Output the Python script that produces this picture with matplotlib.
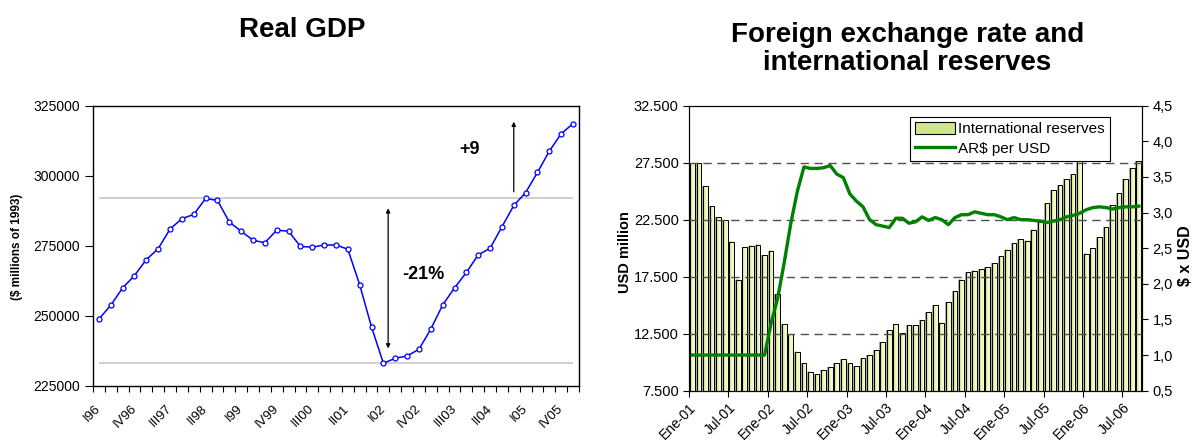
import numpy as np
import matplotlib
matplotlib.use('Agg')
import matplotlib.pyplot as plt
from matplotlib.patches import Patch
from matplotlib.lines import Line2D
from matplotlib.colors import LinearSegmentedColormap

plt.rcParams['font.family'] = ['Liberation Sans', 'DejaVu Sans']

# Real GDP, quarterly I96 .. I06 ($ millions of 1993)
gdp = [248900, 253800, 260000, 264400, 270100, 274000, 281000, 284700, 286200, 291900,
       291200, 283500, 280200, 277000, 276100, 280600, 280200, 274800, 274500, 275300,
       275300, 273800, 261100, 246000, 233100, 234900, 235700, 238100, 245300, 253900,
       260000, 265500, 271800, 274100, 281800, 289400, 294000, 301200, 308800, 315000,
       318600]
q_labels = ['I96', 'IV96', 'III97', 'II98', 'I99', 'IV99', 'III00', 'II01', 'I02',
            'IV02', 'III03', 'II04', 'I05', 'IV05']

# International reserves (USD million), monthly Jan-01 .. Sep-06
reserves = [27440, 27500, 25450, 23690, 22750, 22460, 20580, 17240, 20110, 20230,
            20320, 19410, 19790, 15950, 13370, 12460, 10930, 9900, 9170, 8940,
            9320, 9550, 9900, 10260, 9900, 9670, 10340, 10610, 11050, 11750,
            12780, 13370, 12540, 13250, 13280, 13720, 14420, 15010, 13480, 15270,
            16270, 17240, 17880, 18030, 18170, 18350, 18700, 19290, 19880, 20460,
            20810, 20670, 21630, 22280, 23980, 25090, 25540, 26030, 26470, 28000,
            19520, 20020, 20960, 21870, 23750, 24860, 26030, 27060, 27650]

# AR$ per USD, monthly
fx = [1.0, 1.0, 1.0, 1.0, 1.0, 1.0, 1.0, 1.0, 1.0, 1.0,
      1.0, 1.0, 1.45, 1.80, 2.30, 2.85, 3.30, 3.64, 3.62, 3.62,
      3.63, 3.66, 3.54, 3.49, 3.26, 3.16, 3.08, 2.90, 2.83, 2.81,
      2.79, 2.92, 2.92, 2.85, 2.87, 2.94, 2.89, 2.93, 2.90, 2.83,
      2.93, 2.97, 2.97, 3.01, 2.99, 2.97, 2.97, 2.94, 2.90, 2.93,
      2.90, 2.90, 2.89, 2.88, 2.86, 2.88, 2.90, 2.94, 2.96, 2.99,
      3.04, 3.07, 3.08, 3.07, 3.05, 3.07, 3.08, 3.08, 3.09]
m_labels = ['Ene-01', 'Jul-01', 'Ene-02', 'Jul-02', 'Ene-03', 'Jul-03',
            'Ene-04', 'Jul-04', 'Ene-05', 'Jul-05', 'Ene-06', 'Jul-06']

fig = plt.figure(figsize=(11.94, 4.43), dpi=100)

# ---------------- Left: Real GDP ----------------
ax1 = fig.add_axes([0.0779, 0.1287, 0.407, 0.6327])
xq = np.arange(len(gdp))

# Peak and trough reference lines
peak = max(gdp[:20])
trough = min(gdp)
ax1.hlines([peak, trough], 0, len(gdp) - 1, color='#c8c8c8', lw=1.2, zorder=1)

ax1.plot(xq, gdp, color='#0000ff', lw=1.1, marker='o', ms=3.6,
         mfc='white', mec='#0000ff', mew=0.9, zorder=3)

ax1.set_xlim(-0.5, len(gdp) - 0.5)
ax1.set_ylim(225000, 325000)
ax1.set_yticks(np.arange(225000, 325001, 25000))
ax1.set_xticks(np.arange(-0.5, len(gdp), 1))
ax1.set_xticklabels([])
ax1.set_xticks(np.arange(0, len(gdp), 3)[:len(q_labels)], labels=q_labels, minor=True)
ax1.tick_params(axis='x', which='major', direction='out', length=4, width=0.8)
ax1.tick_params(axis='x', which='minor', length=0, pad=15, labelsize=9.5)
for lab in ax1.get_xticklabels(minor=True):
    lab.set_rotation(45)
    lab.set_ha('right')
    lab.set_va('center')
    lab.set_rotation_mode('anchor')
ax1.tick_params(axis='y', direction='out', length=6, width=0.8, labelsize=10)
for s in ax1.spines.values():
    s.set_linewidth(1.0)

# Annotations
ax1.annotate('', xy=(24.4, 238400), xytext=(24.4, 288400),
             arrowprops=dict(arrowstyle='<|-|>', lw=0.9, color='black',
                             mutation_scale=6, shrinkA=0, shrinkB=0))
ax1.text(27.4, 264600, '-21%', fontsize=13, fontweight='bold', ha='center', va='center')
ax1.annotate('', xy=(35.0, 319300), xytext=(35.0, 294300),
             arrowprops=dict(arrowstyle='-|>', lw=0.9, color='black',
                             mutation_scale=6, shrinkA=0, shrinkB=0))
ax1.text(31.3, 309400, '+9', fontsize=13, fontweight='bold', ha='center', va='center')

fig.text(0.0142, 0.443, '($ millions of 1993)', rotation=90, fontsize=8.5,
         fontweight='bold', ha='center', va='center')
fig.text(0.2533, 0.932, 'Real GDP', fontsize=20, fontweight='bold',
         ha='center', va='center')

# ---------------- Right: FX and reserves ----------------
ax2 = fig.add_axes([0.5771, 0.1181, 0.3794, 0.6433])
xm = np.arange(len(reserves))

# gray shading between bars
ax2.bar(xm, reserves, width=1.0, color='#a9a9a9', lw=0, zorder=1)
bars = ax2.bar(xm, reserves, width=0.72, facecolor='none', edgecolor='black',
               lw=0.7, zorder=3)
cmap = LinearSegmentedColormap.from_list('resv', ['#a9cc45', '#dcee9c', '#f6fadb', '#eef6c6'])
grad = np.linspace(0, 1, 32).reshape(1, -1)
for rect in bars:
    x0 = rect.get_x()
    w = rect.get_width()
    h = rect.get_height()
    ax2.imshow(grad, extent=[x0, x0 + w, 0, h], aspect='auto', cmap=cmap,
               interpolation='bilinear', zorder=2)

ax2.set_xlim(-0.5, len(reserves) - 0.5)
ax2.set_ylim(7500, 32500)
yt = np.arange(7500, 32501, 5000)
ax2.set_yticks(yt, labels=[f'{v:,}'.replace(',', '.') for v in yt])
ax2.hlines(yt[1:-1], -0.5, len(reserves) - 0.5, color='#505050', lw=1.0,
           linestyles=(0, (6, 4)), zorder=4)
ax2.set_xticks(np.arange(-0.5, len(reserves), 6)[:len(m_labels)], labels=m_labels)
ax2.tick_params(axis='x', direction='out', length=4, width=0.8, labelsize=10, pad=3)
for lab in ax2.get_xticklabels():
    lab.set_rotation(45)
    lab.set_ha('right')
    lab.set_rotation_mode('anchor')
ax2.tick_params(axis='y', direction='out', length=4, width=0.8, labelsize=10.5)

ax3 = ax2.twinx()
ax3.plot(xm, fx, color='#008000', lw=2.4, zorder=5)
ax3.set_ylim(0.5, 4.5)
rt = np.arange(0.5, 4.51, 0.5)
ax3.set_yticks(rt, labels=[f'{v:.1f}'.replace('.', ',') for v in rt])
ax3.tick_params(axis='y', direction='out', length=4, width=0.8, labelsize=10.5)

handles = [Patch(facecolor='#cfe68a', edgecolor='black', lw=0.8),
           Line2D([], [], color='#008000', lw=2.4)]
leg = ax3.legend(handles, ['International reserves', 'AR$ per USD'],
                 loc='upper right', bbox_to_anchor=(0.929, 0.961), fontsize=11,
                 frameon=True, fancybox=False, framealpha=1, edgecolor='black',
                 handlelength=2.6, handleheight=0.8, borderpad=0.35,
                 labelspacing=0.35, handletextpad=0.2, borderaxespad=0)
leg.get_frame().set_linewidth(0.8)

fig.text(0.5235, 0.432, 'USD million', rotation=90, fontsize=10.5,
         fontweight='bold', ha='center', va='center')
fig.text(0.9925, 0.4226, '$ x USD', rotation=90, fontsize=11.5,
         fontweight='bold', ha='center', va='center')
fig.text(0.760, 0.889, 'Foreign exchange rate and\ninternational reserves',
         fontsize=20, fontweight='bold', ha='center', va='center', linespacing=1.1)

fig.savefig('out.png', dpi=100)
